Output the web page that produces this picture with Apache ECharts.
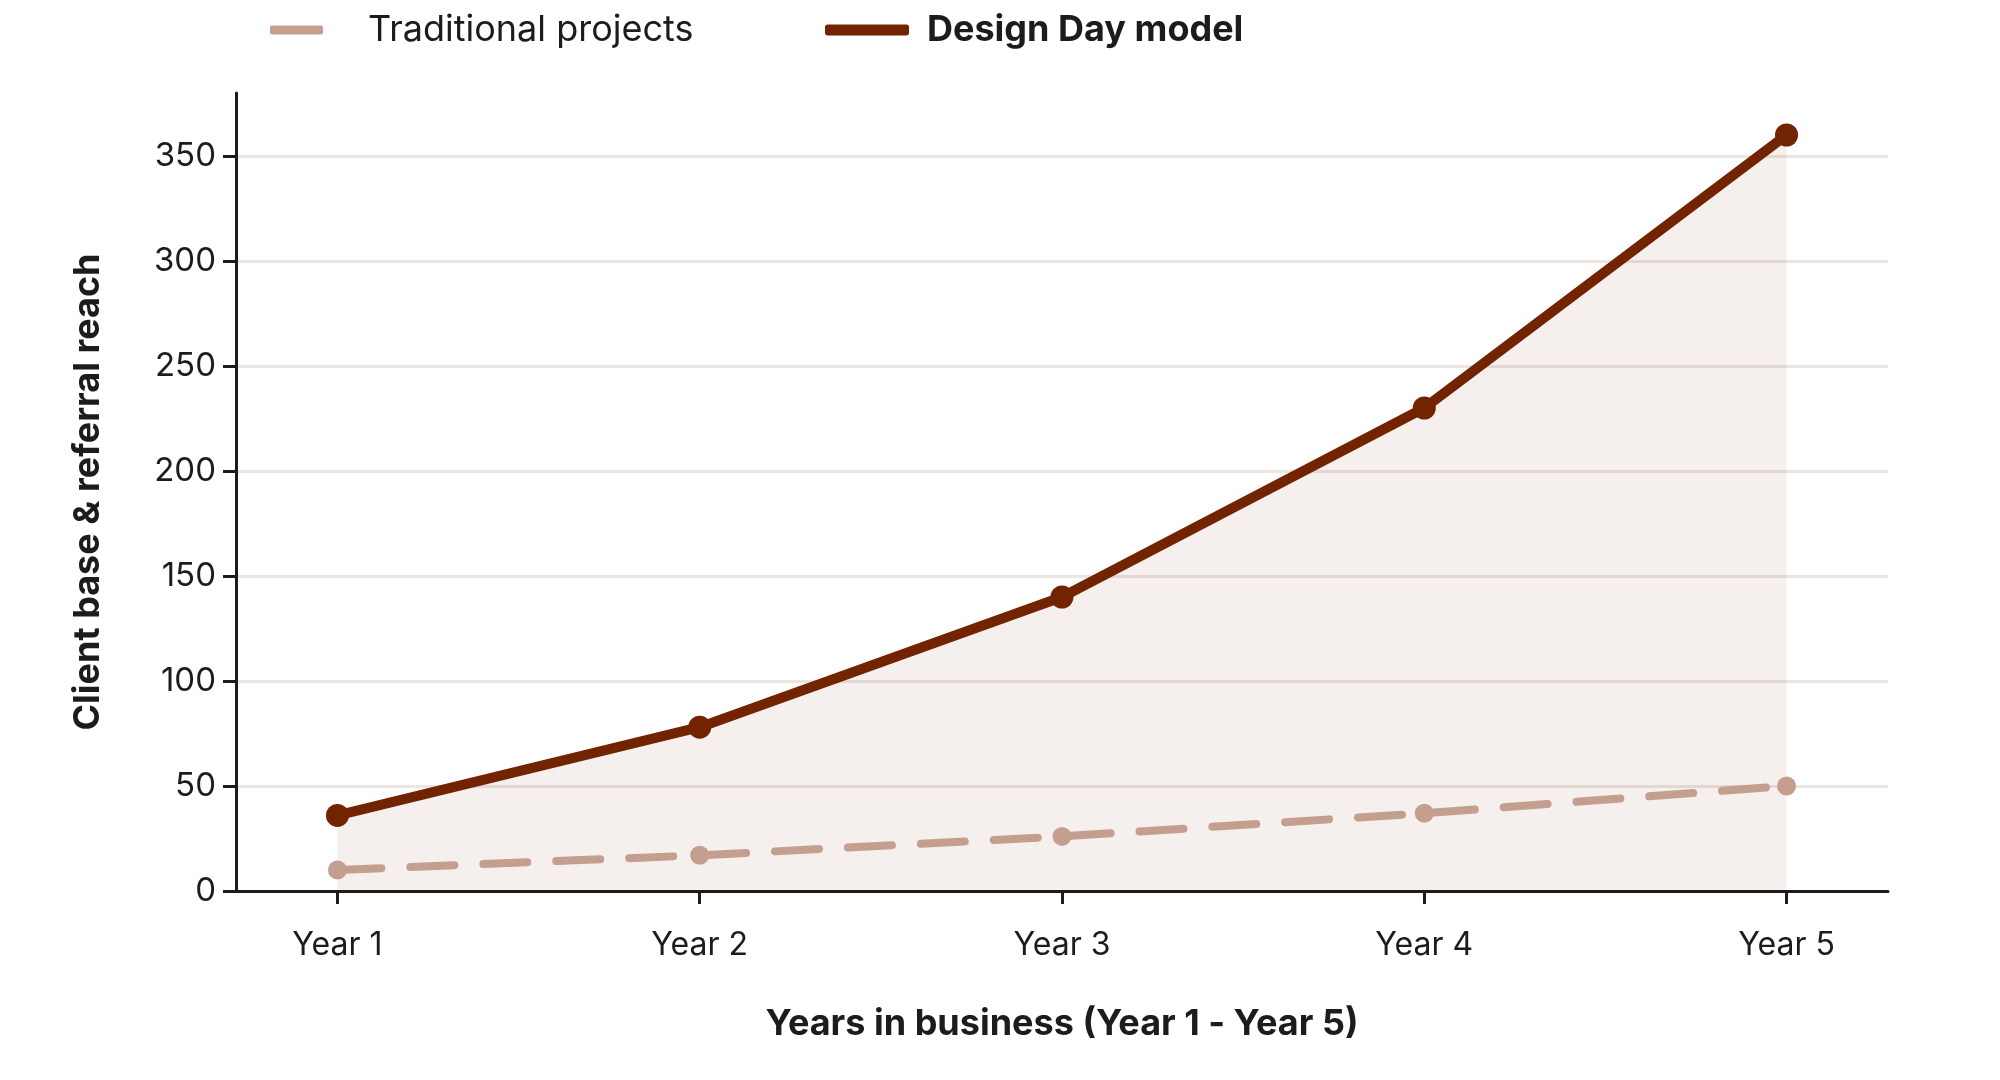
<!DOCTYPE html>
<html>
<head>
<meta charset="utf-8">
<script src="https://cdn.jsdelivr.net/npm/echarts@6/dist/echarts.min.js"></script>
<style>
  html, body { margin: 0; padding: 0; background: #fff; }
  #chart { width: 2000px; height: 1080px; }
</style>
</head>
<body>
<div id="chart"></div>
<script>
// data
var years = ['Year 1', 'Year 2', 'Year 3', 'Year 4', 'Year 5'];
var traditional = [10, 17, 26, 37, 50];
var designDay = [36, 78, 140, 230, 360];
var yTicks = [0, 50, 100, 150, 200, 250, 300, 350];

var font = 'Inter, "Noto Sans", sans-serif';
var ink = '#1c1c1c';
var brown = '#722300';
var tan = '#c49e8e';

var chart = echarts.init(document.getElementById('chart'));

var xPos = years.map(function (y, i) { return i + 1; });

var option = {
    backgroundColor: '#fff',
    animation: false,
    textStyle: { fontFamily: font, color: ink },
    grid: { left: 236, right: 112, top: 93, bottom: 189 },
    legend: [
        {
            data: ['Traditional projects'],
            left: 265, top: 7,
            icon: 'roundRect',
            itemWidth: 53, itemHeight: 9,
            textStyle: { fontFamily: font, fontSize: 36, color: ink, padding: [0, 0, 0, 40] }
        },
        {
            data: ['Design Day model'],
            left: 820, top: 7,
            icon: 'roundRect',
            itemWidth: 84, itemHeight: 11,
            textStyle: { fontFamily: font, fontSize: 36, fontWeight: 'bold', color: ink, padding: [0, 0, 0, 13] }
        }
    ],
    xAxis: {
        type: 'value',
        min: 0.72,
        max: 5.28,
        name: 'Years in business (Year 1 - Year 5)',
        nameLocation: 'middle',
        nameGap: 115,
        nameTextStyle: { fontFamily: font, fontSize: 36, fontWeight: 'bold', color: ink },
        axisLine: { lineStyle: { color: ink, width: 3 } },
        axisTick: { customValues: xPos, length: 13, lineStyle: { color: ink, width: 3 } },
        axisLabel: {
            customValues: xPos,
            margin: 38,
            fontSize: 32,
            color: ink,
            formatter: function (v) {
                var i = Math.round(v);
                return Math.abs(v - i) < 1e-6 && years[i - 1] ? years[i - 1] : '';
            }
        },
        splitLine: { show: false }
    },
    yAxis: {
        type: 'value',
        min: 0,
        max: 380,
        interval: 50,
        name: 'Client base & referral reach',
        nameLocation: 'middle',
        nameGap: 130,
        nameTextStyle: { fontFamily: font, fontSize: 36, fontWeight: 'bold', color: ink },
        axisLine: { show: true, lineStyle: { color: ink, width: 3 } },
        axisTick: { show: true, customValues: yTicks, length: 13, lineStyle: { color: ink, width: 3 } },
        axisLabel: { customValues: yTicks, margin: 20, fontSize: 33, color: ink },
        splitLine: { show: true, lineStyle: { color: '#ede5e2', width: 3 } }
    },
    series: [
        {
            name: 'Design Day model',
            type: 'line',
            data: designDay.map(function (v, i) { return [xPos[i], v]; }),
            symbol: 'circle',
            symbolSize: 23,
            color: brown,
            lineStyle: { color: brown, width: 10 },
            itemStyle: { color: brown },
            areaStyle: { color: 'rgba(114,35,0,0.1)', origin: 'start' },
            z: 3
        },
        {
            name: 'Traditional projects',
            type: 'line',
            data: traditional.map(function (v, i) { return [xPos[i], v]; }),
            symbol: 'circle',
            symbolSize: 19,
            color: tan,
            lineStyle: { color: tan, width: 8, type: [44, 29], cap: 'round' },
            itemStyle: { color: tan },
            z: 4
        }
    ]
};

chart.setOption(option);
</script>
</body>
</html>
